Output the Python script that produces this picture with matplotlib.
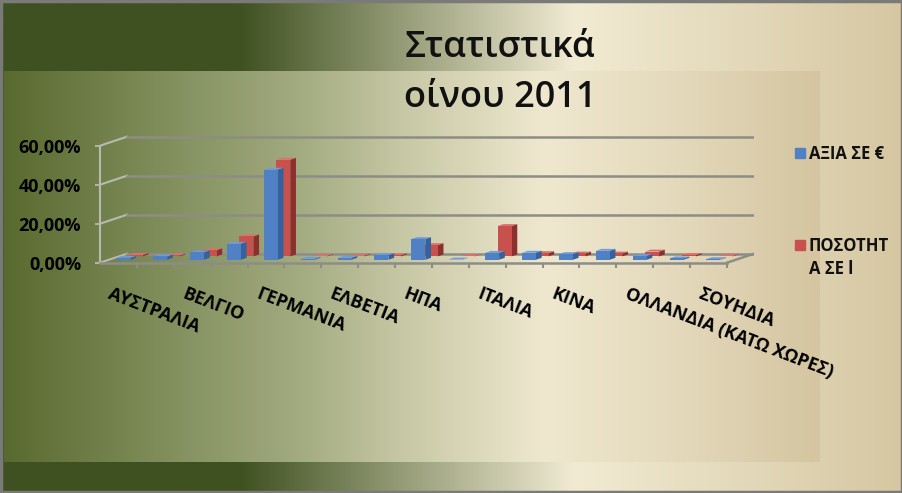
import numpy as np
import matplotlib
matplotlib.use("Agg")
import matplotlib.pyplot as plt
from matplotlib.patches import Rectangle
from matplotlib.transforms import ScaledTranslation

plt.rcParams["font.family"] = ["Open Sans", "DejaVu Sans"]

# ---- data ------------------------------------------------------------------
# Excel only printed every other category label; the skipped ones are not readable.
CATEGORIES = [
    "ΑΥΣΤΡΑΛΙΑ", "", "ΒΕΛΓΙΟ", "", "ΓΕΡΜΑΝΙΑ", "", "ΕΛΒΕΤΙΑ", "", "ΗΠΑ",
    "", "ΙΤΑΛΙΑ", "", "ΚΙΝΑ", "", "ΟΛΛΑΝΔΙΑ (ΚΑΤΩ ΧΩΡΕΣ)", "", "ΣΟΥΗΔΙΑ",
]
VALUE_EUR = [1.0, 1.7, 3.8, 8.2, 46.2, 0.5, 1.0, 2.4, 10.6,
             0.1, 3.5, 3.6, 2.9, 4.6, 2.0, 0.7, 0.3]
QUANTITY_L = [0.8, 0.5, 3.2, 10.3, 49.6, 0.3, 0.4, 0.6, 5.8,
              0.2, 15.6, 1.7, 1.5, 1.5, 2.5, 0.7, 0.3]
SERIES_NAMES = ["ΑΞΙΑ ΣΕ €", "ΠΟΣΟΤΗΤ\nΑ ΣΕ l"]
Y_TICKS = [0, 20, 40, 60]
TITLE_LINES = ["Στατιστικά", "οίνου 2011"]

# ---- layout (pixels of the 903x493 picture) ---------------------------------
W, H = 903, 493
FRONT_LEFT, FRONT_RIGHT = 100.0, 727.0
ZERO_Y, SIXTY_Y = 262.7, 145.7
DEPTH_PX = (27.0, 9.0)

n = len(CATEGORIES)
ux = (FRONT_RIGHT - FRONT_LEFT) / n
uy = (ZERO_Y - SIXTY_Y) / 60.0
DX, DY = DEPTH_PX[0] / ux, DEPTH_PX[1] / uy
YMIN, YMAX = -4, 66

BLUE = ("#4f81c4", "#36629c", "#6f9bd8")   # front, side, top
RED = ("#c9514d", "#8c302e", "#d9716c")
GRID = "#8d8d86"

fig = plt.figure(figsize=(W / 100, H / 100), dpi=100)

# background gradients
bg = fig.add_axes([0, 0, 1, 1], zorder=-10)
bg.set_xlim(0, W)
bg.set_ylim(H, 0)
bg.axis("off")


def gradient(stops, colors, x0, x1, y0, y1):
    xs = np.linspace(x0, x1, 400)
    rgb = np.array([matplotlib.colors.to_rgb(c) for c in colors])
    img = np.stack([np.interp(xs, stops, rgb[:, k]) for k in range(3)], axis=-1)
    bg.imshow(img[None, :, :], extent=(x0, x1, y1, y0), aspect="auto",
              interpolation="bilinear")


gradient([0, 240, 575, 903],
         ["#3f5121", "#3f5121", "#f1ebd3", "#d6c7a2"], 0, W, 0, H)
gradient([4, 150, 300, 400, 545, 700, 820],
         ["#596a2f", "#7d8b58", "#a3ab80", "#c6c7a4", "#efe8cf", "#e2d6b8", "#d5c5a0"],
         4, 820, 71, 462)
bg.add_patch(Rectangle((1, 1), W - 2, H - 2, fill=False, ec="#7a7a78", lw=2.5))

# main axes: x in category units, y in percent
ax = fig.add_axes([FRONT_LEFT / W, (H - (ZERO_Y - YMIN * uy)) / H,
                   (n + DX) * ux / W, (YMAX - YMIN) * uy / H])
ax.set_xlim(0, n + DX)
ax.set_ylim(YMIN, YMAX)
ax.set_facecolor("none")
for side in ("top", "right"):
    ax.spines[side].set_visible(False)
ax.spines["left"].set_bounds(0, 60)
ax.spines["left"].set_color("#b9b9b0")
ax.spines["left"].set_linewidth(1.5)
ax.spines["bottom"].set_position(("data", 0))
ax.spines["bottom"].set_bounds(0, n)
ax.spines["bottom"].set_color(GRID)
ax.spines["bottom"].set_linewidth(1.8)

# back wall grid + floor
for v in Y_TICKS:
    ax.plot([0, DX], [v, v + DY], color="#b9b9b0", lw=1.5, zorder=1)
    ax.plot([DX, n + DX], [v + DY, v + DY], color=GRID, lw=1.8, zorder=1)
ax.plot([n, n + DX], [0, DY], color=GRID, lw=1.8, zorder=1)

# 3-D looking columns: red row behind, blue row in front
BAR_W, BAR_D = 0.38, 0.21
rows = [(QUANTITY_L, RED, 0.70, -0.233), (VALUE_EUR, BLUE, 0.33, -0.30)]
for values, (c_front, c_side, c_top), depth, lateral in rows:
    for i, v in enumerate(values):
        x0 = i + 0.5 + lateral + depth * DX
        y0 = depth * DY
        bx, by = BAR_D * DX, BAR_D * DY
        ax.fill([x0 + BAR_W, x0 + BAR_W + bx, x0 + BAR_W + bx, x0 + BAR_W],
                [y0, y0 + by, y0 + by + v, y0 + v], color=c_side, lw=0, zorder=3)
        ax.fill([x0, x0 + BAR_W, x0 + BAR_W + bx, x0 + bx],
                [y0 + v, y0 + v, y0 + v + by, y0 + v + by], color=c_top, lw=0, zorder=3)
        ax.fill([x0, x0 + BAR_W, x0 + BAR_W, x0],
                [y0, y0, y0 + v, y0 + v], color=c_front, lw=0, zorder=3)

# axis ticks and labels
ax.set_yticks(Y_TICKS)
ax.set_yticklabels([f"{v:.2f}%".replace(".", ",") for v in Y_TICKS],
                   fontsize=13, fontweight="bold")
ax.tick_params(axis="y", direction="out", length=3.6, width=1.3,
               color="#b9b9b0", pad=10)

ax.set_xticks(np.arange(n) + 0.5)
ax.set_xticklabels(CATEGORIES, fontsize=13, fontweight="bold", rotation=-21,
                   ha="left", va="top", rotation_mode="anchor")
ax.set_xticks(np.arange(1, n + 1), minor=True)
ax.tick_params(axis="x", which="major", length=0, pad=16)
ax.tick_params(axis="x", which="minor", direction="out", length=3.6, width=1.5,
               color=GRID)
shift = ScaledTranslation(-6 / 100, 0, fig.dpi_scale_trans)
for lab in ax.get_xticklabels():
    lab.set_transform(lab.get_transform() + shift)

# legend drawn by hand (Excel layout: big gap between the two entries)
for (name, (c_front, _, _)), y_top in zip(zip(SERIES_NAMES, [BLUE, RED]), [148, 240]):
    bg.add_patch(Rectangle((795, y_top), 10, 10, color=c_front))
    bg.text(809, y_top - 3, name, fontsize=12, fontweight="bold", ha="left",
            va="top", linespacing=1.35, color="#111111")

# title
for line, base in zip(TITLE_LINES, [57, 107]):
    bg.text(500, base, line, fontsize=26, fontweight="semibold", ha="center",
            va="baseline", color="#111111")

fig.savefig("out.png", dpi=100)
